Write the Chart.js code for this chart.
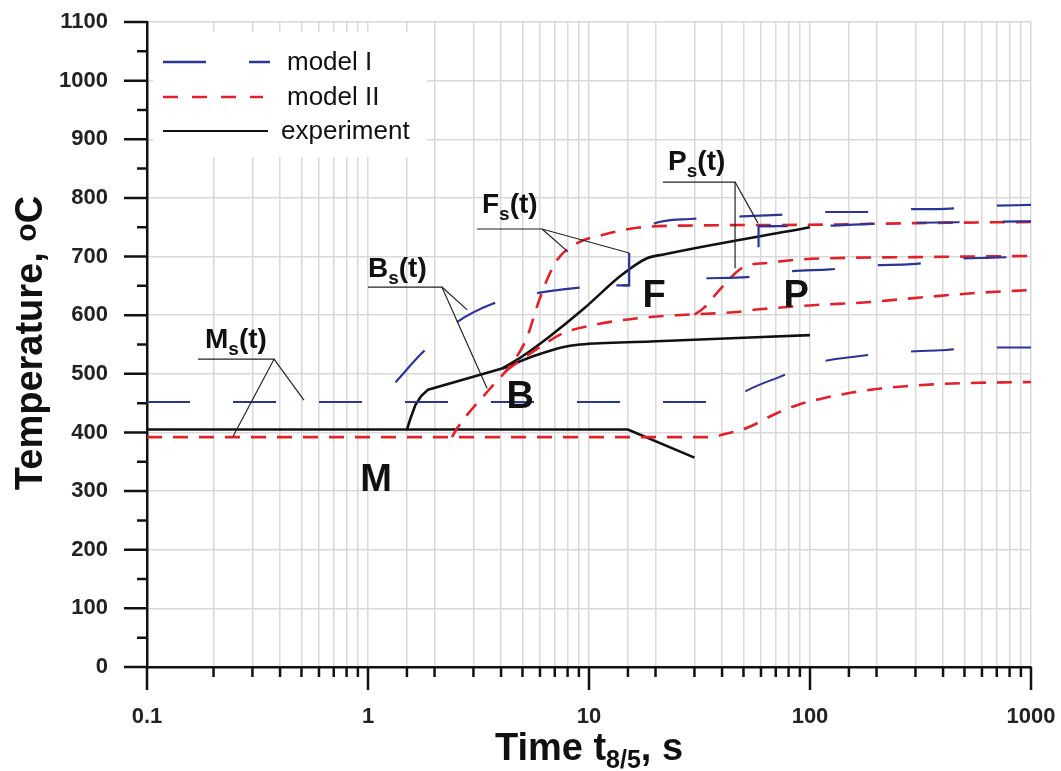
<!DOCTYPE html>
<html>
<head>
<meta charset="utf-8">
<script src="https://cdn.jsdelivr.net/npm/chart.js@4.4.1/dist/chart.umd.min.js"></script>
<style>
  html, body { margin: 0; padding: 0; background: #fff; }
  #wrap { width: 1061px; height: 771px; position: relative; }
</style>
</head>
<body>
<div id="wrap"><canvas id="cct"></canvas></div>
<script>
// *** DATA (time s, temperature C) ***
var decadeLabels = [0.1, 1, 10, 100, 1000];
var yTicksStep = 100;

// experiment
var expM = [[0.1, 405], [15, 405], [30, 357]];
var expStart = [[1.5, 405], [1.56, 425], [1.64, 447], [1.74, 462], [1.87, 473], [4.04, 509]];
var expUpper = [[4.04, 509], [5, 530], [6.7, 565], [9.4, 610], [14, 668], [18.3, 697], [22, 704], [100, 750]];
var expLower = [[4.04, 509], [5.8, 532], [7.5, 545], [9.1, 550], [19, 555], [100, 566]];

// model II
var redM = [[0.1, 392], [36, 392], [40, 396], [52, 408], [70, 432], [90, 448], [120, 460], [155, 468], [210, 475], [275, 479], [360, 482], [480, 484], [1000, 486]];
var redB = [[2.4, 392], [2.53, 407], [3.57, 475], [4.53, 520], [5.24, 562], [5.82, 615], [6.45, 660], [7.17, 694], [8.83, 723], [11.6, 737], [16.5, 749], [30, 753], [90, 754], [300, 757], [1000, 759]];
var redF = [[4.2, 505], [5.8, 542], [7.6, 569], [10.4, 583], [13.8, 591], [19, 597], [25, 600], [45, 605], [59, 610], [103, 617], [181, 622], [255, 627], [360, 632], [570, 638], [1000, 643]];
var redP = [[30, 601], [33, 612], [40, 648], [50, 682], [64, 689], [84, 694], [119, 697], [300, 699], [1000, 701]];

// model I
var blueM = [[0.1, 452], [44, 452], [50, 468], [72, 494], [111, 520], [165, 530], [250, 537], [387, 540], [600, 545], [1000, 545]];
var blueB = [[1.1, 452], [1.32, 484], [1.75, 535], [2.48, 586], [3.64, 619], [5.7, 637], [8.6, 646], [13.3, 651], [15.2, 651]];
var blueJumpF = [[13.3, 651], [15.2, 651], [15.2, 706]];
var blueFlow = [[34, 663], [52, 665], [83, 675], [123, 678], [190, 685], [288, 687], [453, 696], [665, 698], [1000, 700]];
var blueFup = [[15.2, 706], [17, 735], [19.3, 755], [28.6, 764], [46, 768], [71, 771], [111, 776], [172, 776], [255, 781], [380, 781], [620, 786], [1000, 788]];
var blueJumpP = [[58.5, 716], [58.5, 752], [70, 752]];
var blueP = [[58.5, 752], [100, 752], [170, 755], [250, 757], [600, 759], [1000, 760]];

// callouts (data coords)
var calloutLines = [
    [[0.17, 525], [0.3756, 525], [0.245, 393]], [[0.3756, 525], [0.513, 455]],
    [[1.0, 648], [2.16, 648], [3.46, 475]], [[2.16, 648], [2.81, 609]],
    [[3.11, 747], [6.13, 747], [15.2, 706]], [[6.13, 747], [8.04, 708]],
    [[21.6, 827], [45.8, 827], [45.8, 680]], [[45.8, 827], [58.2, 757]]
];
var calloutText = [["M", 0.183, 544], ["B", 1.0, 665], ["F", 3.28, 774], ["P", 22.8, 848]];
var regionLetters = [["M", 1.087, 318], ["B", 4.88, 460], ["F", 19.7, 632], ["P", 86.5, 631]];

var BLUE = '#2b3596';
var RED = '#e3202a';
var BLACK = '#111111';
var FONT = '"Liberation Sans", Arial, sans-serif';

function pts(arr) {
    return arr.map(function(p) { return { x: p[0], y: p[1] }; });
}

function series(arr, color, width, dash, smooth, offset) {
    return {
        data: pts(arr),
        borderColor: color,
        borderWidth: width,
        borderDash: dash,
        borderDashOffset: offset || 0,
        pointRadius: 0,
        fill: false,
        tension: smooth ? 0.4 : 0,
        cubicInterpolationMode: smooth ? 'monotone' : 'default'
    };
}

var blueDash = [43, 43];
var redDash = [15, 11];

var datasets = [
    series(blueM, BLUE, 2, blueDash, true),
    series(blueB, BLUE, 2.2, blueDash, true, 59),
    series(blueFlow, BLUE, 2.2, blueDash, true, 0),
    series(blueFup, BLUE, 2.2, blueDash, true, 47),
    series(blueP, BLUE, 2.2, blueDash, true, 14),
    series(blueJumpF, BLUE, 2.2, [], false),
    series(blueJumpP, BLUE, 2.2, [], false),
    series(redM, RED, 2.6, redDash, true),
    series(redB, RED, 2.6, redDash, true),
    series(redF, RED, 2.6, redDash, true),
    series(redP, RED, 2.6, redDash, true),
    series(expM, BLACK, 2.6, [], false),
    series(expStart, BLACK, 2.6, [], false),
    series(expUpper, BLACK, 2.6, [], true),
    series(expLower, BLACK, 2.6, [], true)
];

function isDecade(v) {
    for (var i = 0; i < decadeLabels.length; i++) {
        if (Math.abs(v - decadeLabels[i]) < 1e-9 * Math.max(1, v)) return true;
    }
    return false;
}

// draws pieces of text with sizes / vertical shifts, centred or left aligned
function richText(ctx, parts, x, y, align) {
    var total = 0;
    parts.forEach(function(p) {
        ctx.font = 'bold ' + p[1] + 'px ' + FONT;
        p.w = ctx.measureText(p[0]).width;
        total += p.w;
    });
    var cx = align === 'center' ? x - total / 2 : x;
    ctx.textAlign = 'left';
    ctx.textBaseline = 'alphabetic';
    parts.forEach(function(p) {
        ctx.font = 'bold ' + p[1] + 'px ' + FONT;
        ctx.fillText(p[0], cx, y + (p[2] || 0));
        cx += p.w;
    });
}

function noLabelPadding(s) {
    s.paddingTop = 0;
    s.paddingBottom = 0;
    s.paddingLeft = 0;
    s.paddingRight = 0;
}

var decorations = {
    id: 'decorations',
    beforeDatasetsDraw: function(chart) {
        var ctx = chart.ctx, a = chart.chartArea;
        ctx.save();
        ctx.fillStyle = '#fff';
        ctx.fillRect(a.left + 6, a.top + 10, 274, 125);
        ctx.restore();
    },
    afterDatasetsDraw: function(chart) {
        var ctx = chart.ctx, xs = chart.scales.x, ys = chart.scales.y;
        ctx.save();
        ctx.strokeStyle = '#222';
        ctx.lineWidth = 1.2;
        calloutLines.forEach(function(l) {
            ctx.beginPath();
            l.forEach(function(p, i) {
                var px = xs.getPixelForValue(p[0]), py = ys.getPixelForValue(p[1]);
                if (i === 0) ctx.moveTo(px, py); else ctx.lineTo(px, py);
            });
            ctx.stroke();
        });
        ctx.fillStyle = '#111';
        calloutText.forEach(function(t) {
            richText(ctx, [[t[0], 28], ['s', 19, 7], ['(t)', 28]], xs.getPixelForValue(t[1]), ys.getPixelForValue(t[2]), 'left');
        });
        ctx.font = 'bold 38px ' + FONT;
        ctx.textAlign = 'center';
        ctx.textBaseline = 'middle';
        regionLetters.forEach(function(t) {
            ctx.fillText(t[0], xs.getPixelForValue(t[1]), ys.getPixelForValue(t[2]));
        });
        ctx.restore();
    },
    afterDraw: function(chart) {
        var ctx = chart.ctx, a = chart.chartArea, xs = chart.scales.x, ys = chart.scales.y;
        ctx.save();
        // tick marks
        ctx.strokeStyle = '#111';
        ctx.lineWidth = 2.5;
        ctx.beginPath();
        for (var v = 0; v <= 1100; v += yTicksStep / 2) {
            var py = ys.getPixelForValue(v);
            var len = (v % yTicksStep === 0) ? 23 : 10;
            ctx.moveTo(a.left - len, py);
            ctx.lineTo(a.left, py);
        }
        xs.ticks.forEach(function(t) {
            var px = xs.getPixelForValue(t.value);
            var len = isDecade(t.value) ? 23 : 10;
            ctx.moveTo(px, a.bottom);
            ctx.lineTo(px, a.bottom + len);
        });
        ctx.stroke();

        // legend
        var lx = a.left + 16;
        var rows = [
            [a.top + 40, BLUE, blueDash, 107, 2.5, 'model I', 287],
            [a.top + 75, RED, [15, 14], 100, 2.5, 'model II', 287],
            [a.top + 109, BLACK, [], 105, 2.2, 'experiment', 281]
        ];
        rows.forEach(function(r) {
            ctx.beginPath();
            ctx.setLineDash(r[2]);
            ctx.strokeStyle = r[1];
            ctx.lineWidth = r[4];
            ctx.moveTo(lx, r[0]);
            ctx.lineTo(lx + r[3], r[0]);
            ctx.stroke();
            ctx.setLineDash([]);
            ctx.fillStyle = '#111';
            ctx.font = '26px ' + FONT;
            ctx.textAlign = 'left';
            ctx.textBaseline = 'middle';
            ctx.fillText(r[5], r[6], r[0] + 1);
        });

        // axis titles
        ctx.fillStyle = '#111';
        richText(ctx, [['Time t', 38], ['8/5', 25, 8], [', s', 38]], (a.left + a.right) / 2, 760, 'center');
        ctx.translate(42, 343);
        ctx.rotate(-Math.PI / 2);
        richText(ctx, [['Temperature, ', 38], ['o', 30, -6], ['C', 38]], 0, 0, 'center');
        ctx.restore();
    }
};

var cctChart = new Chart(document.getElementById('cct'), {
    type: 'line',
    data: { datasets: datasets },
    options: {
        responsive: true,
        maintainAspectRatio: false,
        animation: false,
        layout: { padding: { top: 22, right: 30, left: 0, bottom: 0 } },
        plugins: { legend: { display: false }, tooltip: { enabled: false } },
        scales: {
            x: {
                type: 'logarithmic',
                min: 0.1,
                max: 1000,
                afterFit: function(s) { s.height = 104; noLabelPadding(s); },
                grid: { color: '#d9d9d9', lineWidth: 1.5, drawTicks: false },
                border: { color: '#111', width: 2.5 },
                ticks: {
                    autoSkip: false,
                    maxRotation: 0,
                    padding: 37,
                    color: '#222',
                    font: { family: FONT, size: 22, weight: 'bold' },
                    callback: function(v) { return isDecade(v) ? String(v) : ''; }
                }
            },
            y: {
                min: 0,
                max: 1100,
                afterFit: function(s) { s.width = 147; noLabelPadding(s); },
                grid: { color: '#d9d9d9', lineWidth: 1.5, drawTicks: false },
                border: { color: '#111', width: 2.5 },
                ticks: {
                    stepSize: yTicksStep,
                    padding: 39,
                    color: '#222',
                    font: { family: FONT, size: 22, weight: 'bold' },
                    callback: function(v) { return String(v); }
                }
            }
        }
    },
    plugins: [decorations]
});
</script>
</body>
</html>
